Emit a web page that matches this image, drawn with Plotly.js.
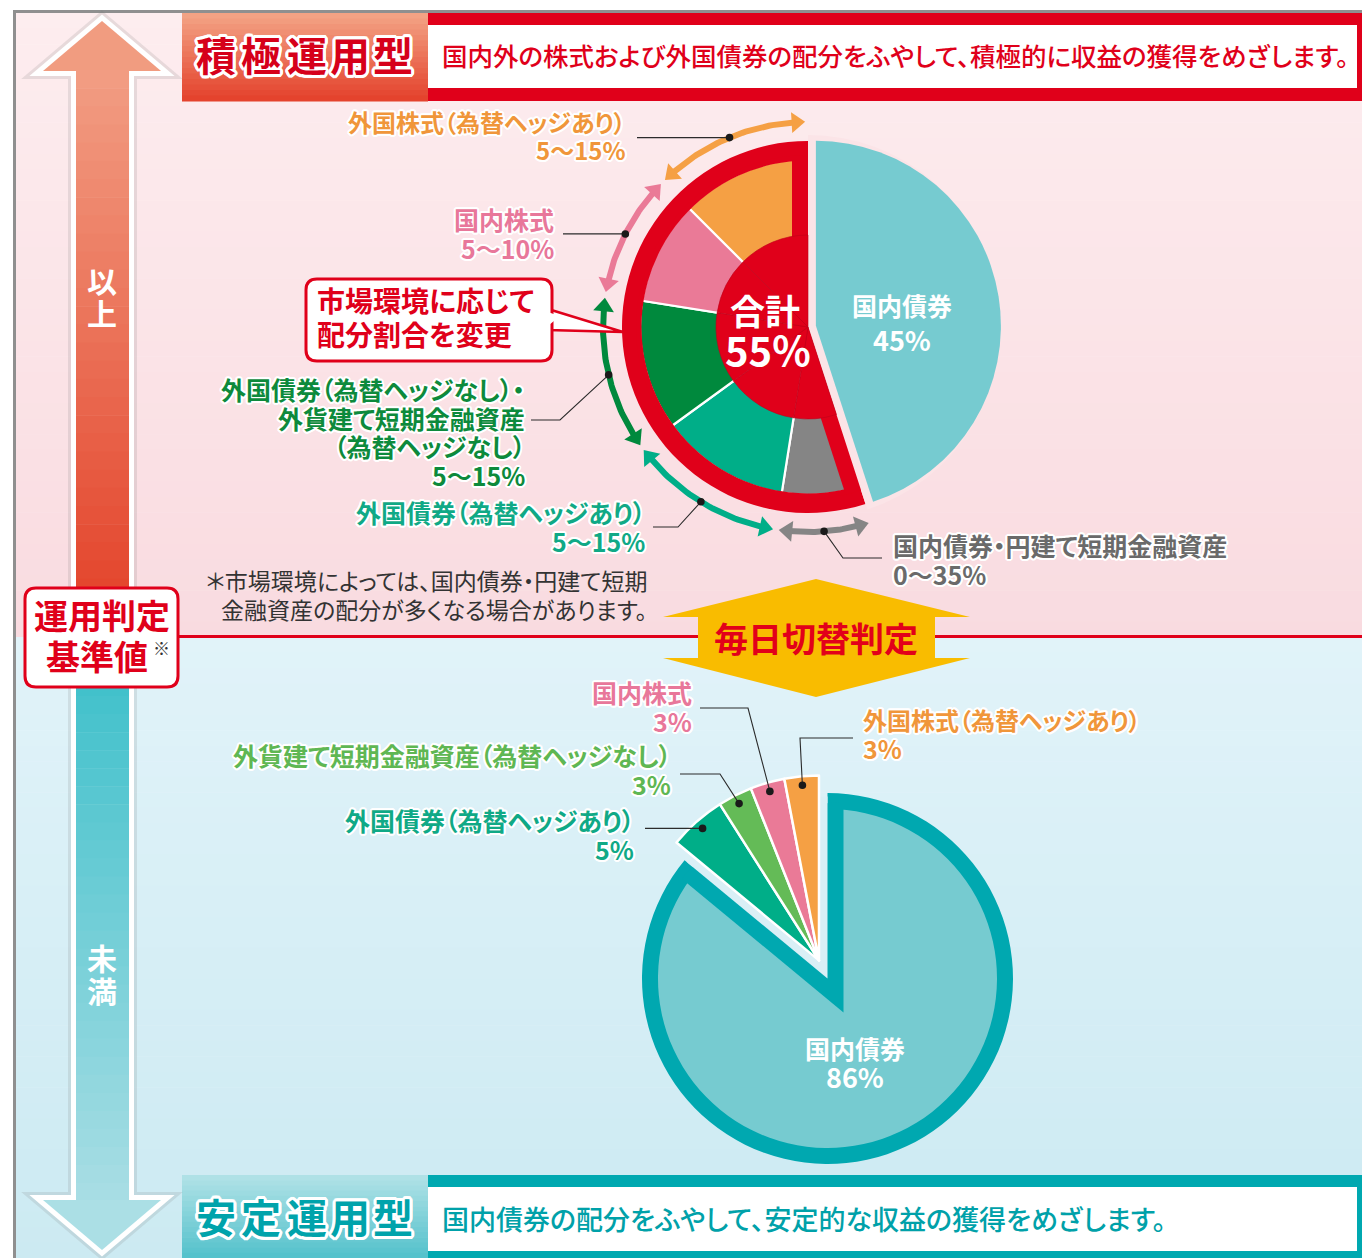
<!DOCTYPE html>
<html><head><meta charset="utf-8">
<script src="https://cdn.plot.ly/plotly-3.0.1.min.js"></script>
<style>
html,body{margin:0;padding:0;background:#fff;}
svg text{font-feature-settings:"palt" 1;}
</style>
</head><body>
<div id="chart" style="width:1362px;height:1258px;"></div>
<script>
// ================= DATA =================
// 積極運用型 (upper chart): risk-asset slices, counter-clockwise from 12 o'clock
const topRiskLabels = ['外国株式（為替ヘッジあり）', '国内株式', '外国債券（為替ヘッジなし）・<br>外貨建て短期金融資産<br>（為替ヘッジなし）', '外国債券（為替ヘッジあり）', '国内債券・円建て短期金融資産'];
const topRiskValues = [12.5, 10, 12.5, 12.5, 7.5];
const topRiskRanges = ['5〜15%', '5〜10%', '5〜15%', '5〜15%', '0〜35%'];
const topBondLabel = '国内債券';
const topBondValue = 45;
const topTotalLabel = '合計';

// 安定運用型 (lower chart): big slice clockwise from 12 o'clock, then the small slices
const bottomBondLabel = '国内債券';
const bottomBondValue = 86;
const bottomSmallLabels = ['外国債券（為替ヘッジあり）', '外貨建て短期金融資産（為替ヘッジなし）', '国内株式', '外国株式（為替ヘッジあり）'];
const bottomSmallValues = [5, 3, 3, 3];

// header / note texts
const topTitle = '積極運用型';
const topDesc = '国内外の株式および外国債券の配分をふやして、積極的に収益の獲得をめざします。';
const bottomTitle = '安定運用型';
const bottomDesc = '国内債券の配分をふやして、安定的な収益の獲得をめざします。';
const noteLines = ['＊市場環境によっては、国内債券・円建て短期', '金融資産の配分が多くなる場合があります。'];
const calloutLines = ['市場環境に応じて', '配分割合を変更'];
const judgeLines = ['運用判定', '基準値'];
const switchText = '毎日切替判定';
const upText = ['以', '上'];
const downText = ['未', '満'];

// ================= STYLE =================
const W = 1362, H = 1258;
const FONT = '"Noto Sans CJK JP", "Noto Sans", sans-serif';
const T = 'rgba(0,0,0,0)';
const RED = '#e0001a';
const TEAL_L = '#76cbd0';
const TEAL_D = '#00a8b0';
const topColors = ['#f5a044', '#ea7a97', '#00893d', '#00ae88', '#858585'];
const topTextColors = ['#f0963a', '#e8779a', '#0d8a3c', '#10a986', '#6a6a6a'];
const topLabelSizes = [24, 25, 25, 25, 25];
const bottomColors = ['#00ae88', '#64bb57', '#ea7a97', '#f5a044'];
const bottomTextColors = ['#10a986', '#5fb753', '#e8779a', '#f0963a'];
const bottomLabelSizes = [25, 25, 25, 24];
const deg = Math.PI / 180;
const DY = -3; // vertical nudge for CJK glyph centring

function lerpColor(c0, c1, t) {
  const r = Math.round(c0[0] + (c1[0] - c0[0]) * t), g = Math.round(c0[1] + (c1[1] - c0[1]) * t), b = Math.round(c0[2] + (c1[2] - c0[2]) * t);
  return `rgb(${r},${g},${b})`;
}
const TOP_BG = [[253, 237, 239], [249, 219, 224], 13, 637];
const BOT_BG = [[225, 243, 249], [204, 234, 242], 637, 1258];
function bgAt(bg, y) { return lerpColor(bg[0], bg[1], Math.min(1, Math.max(0, (y - bg[2]) / (bg[3] - bg[2])))); }

function dom(c, r) { return { x: [(c[0] - r) / W, (c[0] + r) / W], y: [1 - (c[1] + r) / H, 1 - (c[1] - r) / H] }; }
function pCCW(c, r, a) { return [c[0] - r * Math.sin(a * deg), c[1] - r * Math.cos(a * deg)]; }
function pCW(c, r, a) { return [c[0] + r * Math.sin(a * deg), c[1] - r * Math.cos(a * deg)]; }
function pie(values, colors, center, r, o) {
  o = o || {};
  return {
    type: 'pie', values: values, sort: false, direction: 'clockwise', rotation: 0,
    marker: { colors: colors, line: { color: o.lc || T, width: o.lw || 0 } },
    domain: dom(center, r), hole: o.hole || 0, textinfo: 'none', hoverinfo: 'skip', showlegend: false
  };
}

const traces = [];
const sum = a => a.reduce((s, v) => s + v, 0);
const BORDER = 16;

// ---------- upper pie (drawn clockwise: bond slice first, then risk slices reversed) ----------
const C1 = [808, 327];
const riskSum = sum(topRiskValues);
const revVals = topRiskValues.slice().reverse();
const revCols = topColors.slice().reverse();
const tealHalf = topBondValue / 100 * 180;
const tealMid = 360 * riskSum / 100 + tealHalf;   // counter-clockwise angle of bond bisector
traces.push(pie([topBondValue, riskSum], [T, RED], C1, 186));
traces.push(pie([topBondValue].concat(revVals), [T].concat(revCols), C1, 168,
  { lc: [T].concat(revVals.map(() => '#ffffff')), lw: [0].concat(revVals.map(() => 2.2)) }));
traces.push(pie([topBondValue, riskSum], [T, RED], C1, 172, { hole: 166.5 / 172 }));
const V1 = pCCW(C1, -BORDER / Math.sin(tealHalf * deg), tealMid);
traces.push(pie([topBondValue, riskSum], [RED, T], V1, 174));
traces.push(pie([topBondValue, riskSum], [bgAt(TOP_BG, 330), T], C1, 192));
traces.push(pie([topBondValue].concat(revVals), [T].concat(revVals.map(() => RED)), C1, 92,
  { lc: [T].concat(revVals.map(() => '#bf0019')), lw: [0].concat(revVals.map(() => 0.6)) }));
const Ct = pCCW(C1, 8, tealMid);
traces.push(pie([topBondValue, riskSum], [TEAL_L, T], Ct, 185));

// ---------- lower pie ----------
const C2 = [827.5, 978.5];
const smallSum = sum(bottomSmallValues);
const notchHalf = smallSum / 100 * 180;
const notchMid = 360 * bottomBondValue / 100 + notchHalf;
traces.push(pie([bottomBondValue, smallSum], [TEAL_D, T], C2, 185.5));
traces.push(pie([bottomBondValue, smallSum], [TEAL_L, T], C2, 169.5));
const V2 = pCW(C2, -BORDER / Math.sin(notchHalf * deg), notchMid);
traces.push(pie([bottomBondValue, smallSum], [T, TEAL_D], V2, 210));
traces.push(pie([bottomBondValue, smallSum], [T, bgAt(BOT_BG, 880)], C2, 182));
const Cs = pCW(C2, 20, notchMid);
traces.push(pie([bottomBondValue].concat(bottomSmallValues), [T].concat(bottomColors), Cs, 185,
  { lc: [T].concat(bottomSmallValues.map(() => '#ffffff')), lw: [0].concat(bottomSmallValues.map(() => 2.5)) }));

// ---------- range arrows around upper pie ----------
const RA = 205, HEAD = 18, ARC_GAP = 0.8;
const headDeg = (HEAD / 2) / RA / deg;
const topMid = [];
let cum = 0;
topRiskValues.forEach((v, i) => {
  const a0 = cum / 100 * 360, a1 = (cum + v) / 100 * 360; cum += v;
  topMid.push((a0 + a1) / 2);
  const s = a0 + ARC_GAP + headDeg, e = a1 - ARC_GAP - headDeg;
  const xs = [], ys = [];
  for (let k = 0; k <= 40; k++) { const p = pCCW(C1, RA, s + (e - s) * k / 40); xs.push(p[0]); ys.push(p[1]); }
  traces.push({ type: 'scatter', mode: 'lines', x: xs, y: ys, line: { color: topColors[i], width: 6 }, hoverinfo: 'skip', showlegend: false });
  const ps = pCCW(C1, RA, s), pe = pCCW(C1, RA, e);
  const angS = Math.atan2(Math.cos(s * deg), Math.sin(s * deg)) / deg;
  const angE = Math.atan2(-Math.cos(e * deg), -Math.sin(e * deg)) / deg;
  traces.push({ type: 'scatter', mode: 'markers', x: [ps[0], pe[0]], y: [ps[1], pe[1]],
    marker: { symbol: 'triangle-up', size: HEAD, color: topColors[i], angle: [angS, angE], line: { width: 0 } },
    hoverinfo: 'skip', showlegend: false });
});
const bottomMid = [];
cum = bottomBondValue;
bottomSmallValues.forEach(v => { bottomMid.push((cum + v / 2) / 100 * 360); cum += v; });

// ================= SHAPES =================
const shapes = [];
function rect(x0, y0, x1, y1, fill, layer) { shapes.push({ type: 'rect', xref: 'x', yref: 'y', x0, y0, x1, y1, fillcolor: fill, line: { width: 0 }, layer: layer || 'below' }); }
function path(d, fill, lineColor, lw, layer) { shapes.push({ type: 'path', xref: 'x', yref: 'y', path: d, fillcolor: fill, line: { color: lineColor || T, width: lw || 0 }, layer: layer || 'below' }); }
function bands(x0, x1, y0, y1, c0, c1, n) {
  for (let k = 0; k < n; k++) {
    const ya = y0 + (y1 - y0) * k / n, yb = y0 + (y1 - y0) * (k + 1) / n;
    rect(x0, ya, x1, yb + 0.6, lerpColor(c0, c1, (k + 0.5) / n));
  }
}
function hex(h) { return [parseInt(h.slice(1, 3), 16), parseInt(h.slice(3, 5), 16), parseInt(h.slice(5, 7), 16)]; }
function rr(x0, y0, x1, y1, r) {
  return `M${x0 + r},${y0} L${x1 - r},${y0} Q${x1},${y0} ${x1},${y0 + r} L${x1},${y1 - r} Q${x1},${y1} ${x1 - r},${y1} L${x0 + r},${y1} Q${x0},${y1} ${x0},${y1 - r} L${x0},${y0 + r} Q${x0},${y0} ${x0 + r},${y0} Z`;
}

// panels
bands(16, W, 13, 637, TOP_BG[0], TOP_BG[1], 40);
bands(16, W, 637, H, BOT_BG[0], BOT_BG[1], 40);
// frame
shapes.push({ type: 'line', xref: 'x', yref: 'y', x0: 13, y0: 11.5, x1: W, y1: 11.5, line: { color: '#8f8f8f', width: 3 }, layer: 'below' });
shapes.push({ type: 'line', xref: 'x', yref: 'y', x0: 14.5, y0: 10, x1: 14.5, y1: H, line: { color: '#8f8f8f', width: 3 }, layer: 'below' });
// headers
bands(182, 428, 13, 101, hex('#f4a587'), hex('#e3402a'), 16);
rect(428, 13, W, 101, RED);
rect(428, 25, 1357, 88, '#ffffff');
bands(182, 428, 1175, H, hex('#b2e2e7'), hex('#52c1cb'), 16);
rect(428, 1175, W, H, TEAL_D);
rect(428, 1187, 1357, 1251, '#ffffff');
// red boundary line
shapes.push({ type: 'line', xref: 'x', yref: 'y', x0: 178, y0: 636.5, x1: W, y1: 636.5, line: { color: RED, width: 3 }, layer: 'below' });
// left double arrow
const arrowD = 'M102,21 L161,71 L129,71 L129,1200 L161,1200 L102,1250 L43,1200 L76,1200 L76,71 L43,71 Z';
path(arrowD, 'rgba(0,0,0,0)', 'rgba(120,120,120,0.16)', 16);
path(arrowD, '#ffffff', '#ffffff', 10);
path('M102,21 L161,71 L43,71 Z', '#f19c80');
bands(76, 129, 70, 615, hex('#f29e83'), hex('#e3422a'), 30);
bands(76, 129, 660, 1201, hex('#3dbfca'), hex('#a9dee4'), 30);
path('M43,1200 L161,1200 L102,1250 Z', '#abdfe5');
// yellow switch arrow
path('M816,579 L970,617 L935,617 L935,658 L970,658 L816,697 L663,658 L698,658 L698,617 L663,617 Z', '#f9bc00');

// callout + judge boxes (above)
path('M548,309 L623,332 L548,330 Z', '#ffffff', RED, 2.5, 'above');
path(rr(306, 279, 552, 361, 11), '#ffffff', RED, 3, 'above');
path('M546,311.5 L560,316 L546,327.5 Z', '#ffffff', '#ffffff', 0, 'above');
path(rr(25, 588, 178, 687, 11), '#ffffff', RED, 3, 'above');

// leader lines & dots
function leader(pts) {
  shapes.push({ type: 'path', xref: 'x', yref: 'y', path: 'M' + pts.map(p => p[0].toFixed(1) + ',' + p[1].toFixed(1)).join(' L'), line: { color: '#2b2b2b', width: 1.1 }, layer: 'above' });
  const d = pts[0];
  shapes.push({ type: 'circle', xref: 'x', yref: 'y', x0: d[0] - 3.8, x1: d[0] + 3.8, y0: d[1] - 3.8, y1: d[1] + 3.8, fillcolor: '#1a1a1a', line: { width: 0 }, layer: 'above' });
}
const topDots = topMid.map(a => pCCW(C1, RA, a));
leader([topDots[0], [637, topDots[0][1]]]);
leader([topDots[1], [563, topDots[1][1]]]);
leader([topDots[2], [560, 420], [531, 420]]);
leader([topDots[3], [678, 527], [653, 527]]);
leader([topDots[4], [843, 558], [882, 558]]);
const botDots = bottomMid.map(a => pCW(Cs, 176, a));
leader([botDots[0], [645, botDots[0][1]]]);
leader([botDots[1], [720, 774], [680, 774]]);
leader([botDots[2], [748, 708], [700, 708]]);
leader([botDots[3], [800, 738], [853, 738]]);

// ================= ANNOTATIONS =================
function outline(w, c) { const a = []; for (let k = 0; k < 16; k++) { const t = k * Math.PI / 8; a.push(`${(w * Math.cos(t)).toFixed(2)}px ${(w * Math.sin(t)).toFixed(2)}px 0 ${c}`); } return a.join(', '); }
const annotations = [];
function txt(text, x, y, size, color, o) {
  o = o || {};
  annotations.push({ text: text, x: x, y: y + DY, xref: 'x', yref: 'y', showarrow: false, xanchor: o.xa || 'center', yanchor: 'middle',
    align: o.xa === 'right' ? 'right' : 'left', borderpad: 0,
    font: { family: FONT, size: size, color: color, weight: o.w || 700, shadow: o.sh || 'none' } });
}
const WHITE_OL = outline(2, '#ffffff');

// headers
const titleX = [216, 261, 307, 350, 393];
[...topTitle].forEach((ch, i) => txt(ch, titleX[i], 57, 40, '#d6001a', { sh: outline(3, '#ffffff') }));
[...bottomTitle].forEach((ch, i) => txt(ch, titleX[i], 1219, 40, '#00a3ab', { sh: outline(3, '#ffffff') }));
txt(topDesc, 441, 57, 25.5, RED, { xa: 'left', w: 500 });
txt(bottomDesc, 441, 1221, 27, '#00a1a9', { xa: 'left', w: 500 });

// upper labels
const topLabelPos = [[627, 124, 'right'], [555, 222, 'right'], [526, 392, 'right'], [646, 515, 'right'], [892, 548, 'left']];
const LINE = 28.7;
topRiskLabels.forEach((lab, i) => {
  const lines = lab.split('<br>').concat([topRiskRanges[i]]);
  const pz = topLabelPos[i];
  lines.forEach((ln, j) => txt(ln, pz[0], pz[1] + j * LINE, topLabelSizes[i], topTextColors[i], { xa: pz[2], sh: WHITE_OL }));
});
// lower labels
const botLabelPos = [[635, 823, 'right'], [672, 758, 'right'], [693, 695, 'right'], [862, 722, 'left']];
bottomSmallLabels.forEach((lab, i) => {
  const pz = botLabelPos[i];
  txt(lab, pz[0], pz[1], bottomLabelSizes[i], bottomTextColors[i], { xa: pz[2], sh: WHITE_OL });
  txt(bottomSmallValues[i] + '%', pz[0], pz[1] + LINE, 25, bottomTextColors[i], { xa: pz[2], sh: WHITE_OL });
});

// in-pie texts
txt(topTotalLabel, 765, 312, 35, '#ffffff');
txt(riskSum + '%', 768, 352, 40, '#ffffff');
txt(topBondLabel, 902, 308, 25, '#ffffff');
txt(topBondValue + '%', 902, 342, 27, '#ffffff');
txt(bottomBondLabel, 855, 1051, 25, '#ffffff');
txt(bottomBondValue + '%', 855, 1079, 27, '#ffffff');

// note, callout, judge box, switch
txt(noteLines[0], 205, 583, 23, '#333333', { xa: 'left', w: 400 });
txt(noteLines[1], 220, 612, 23, '#333333', { xa: 'left', w: 400 });
txt(calloutLines[0], 316, 303, 28, RED, { xa: 'left' });
txt(calloutLines[1], 316, 337, 28, RED, { xa: 'left' });
txt(judgeLines[0], 102, 617, 34, RED);
txt(judgeLines[1], 97, 658, 34, RED);
txt('※', 161, 650, 17, '#333333', { w: 400 });
txt(switchText, 816, 640, 34, '#e2001a');
txt(upText[0], 102, 283, 30, '#ffffff');
txt(upText[1], 102, 315, 30, '#ffffff');
txt(downText[0], 102, 960, 30, '#ffffff');
txt(downText[1], 102, 993, 30, '#ffffff');

const layout = {
  width: W, height: H, margin: { l: 0, r: 0, t: 0, b: 0, pad: 0 },
  paper_bgcolor: '#ffffff', plot_bgcolor: 'rgba(0,0,0,0)',
  xaxis: { range: [0, W], visible: false, fixedrange: true },
  yaxis: { range: [H, 0], visible: false, fixedrange: true },
  showlegend: false, shapes: shapes, annotations: annotations
};
Plotly.newPlot('chart', traces, layout, { staticPlot: true, displayModeBar: false });
</script>
</body></html>
